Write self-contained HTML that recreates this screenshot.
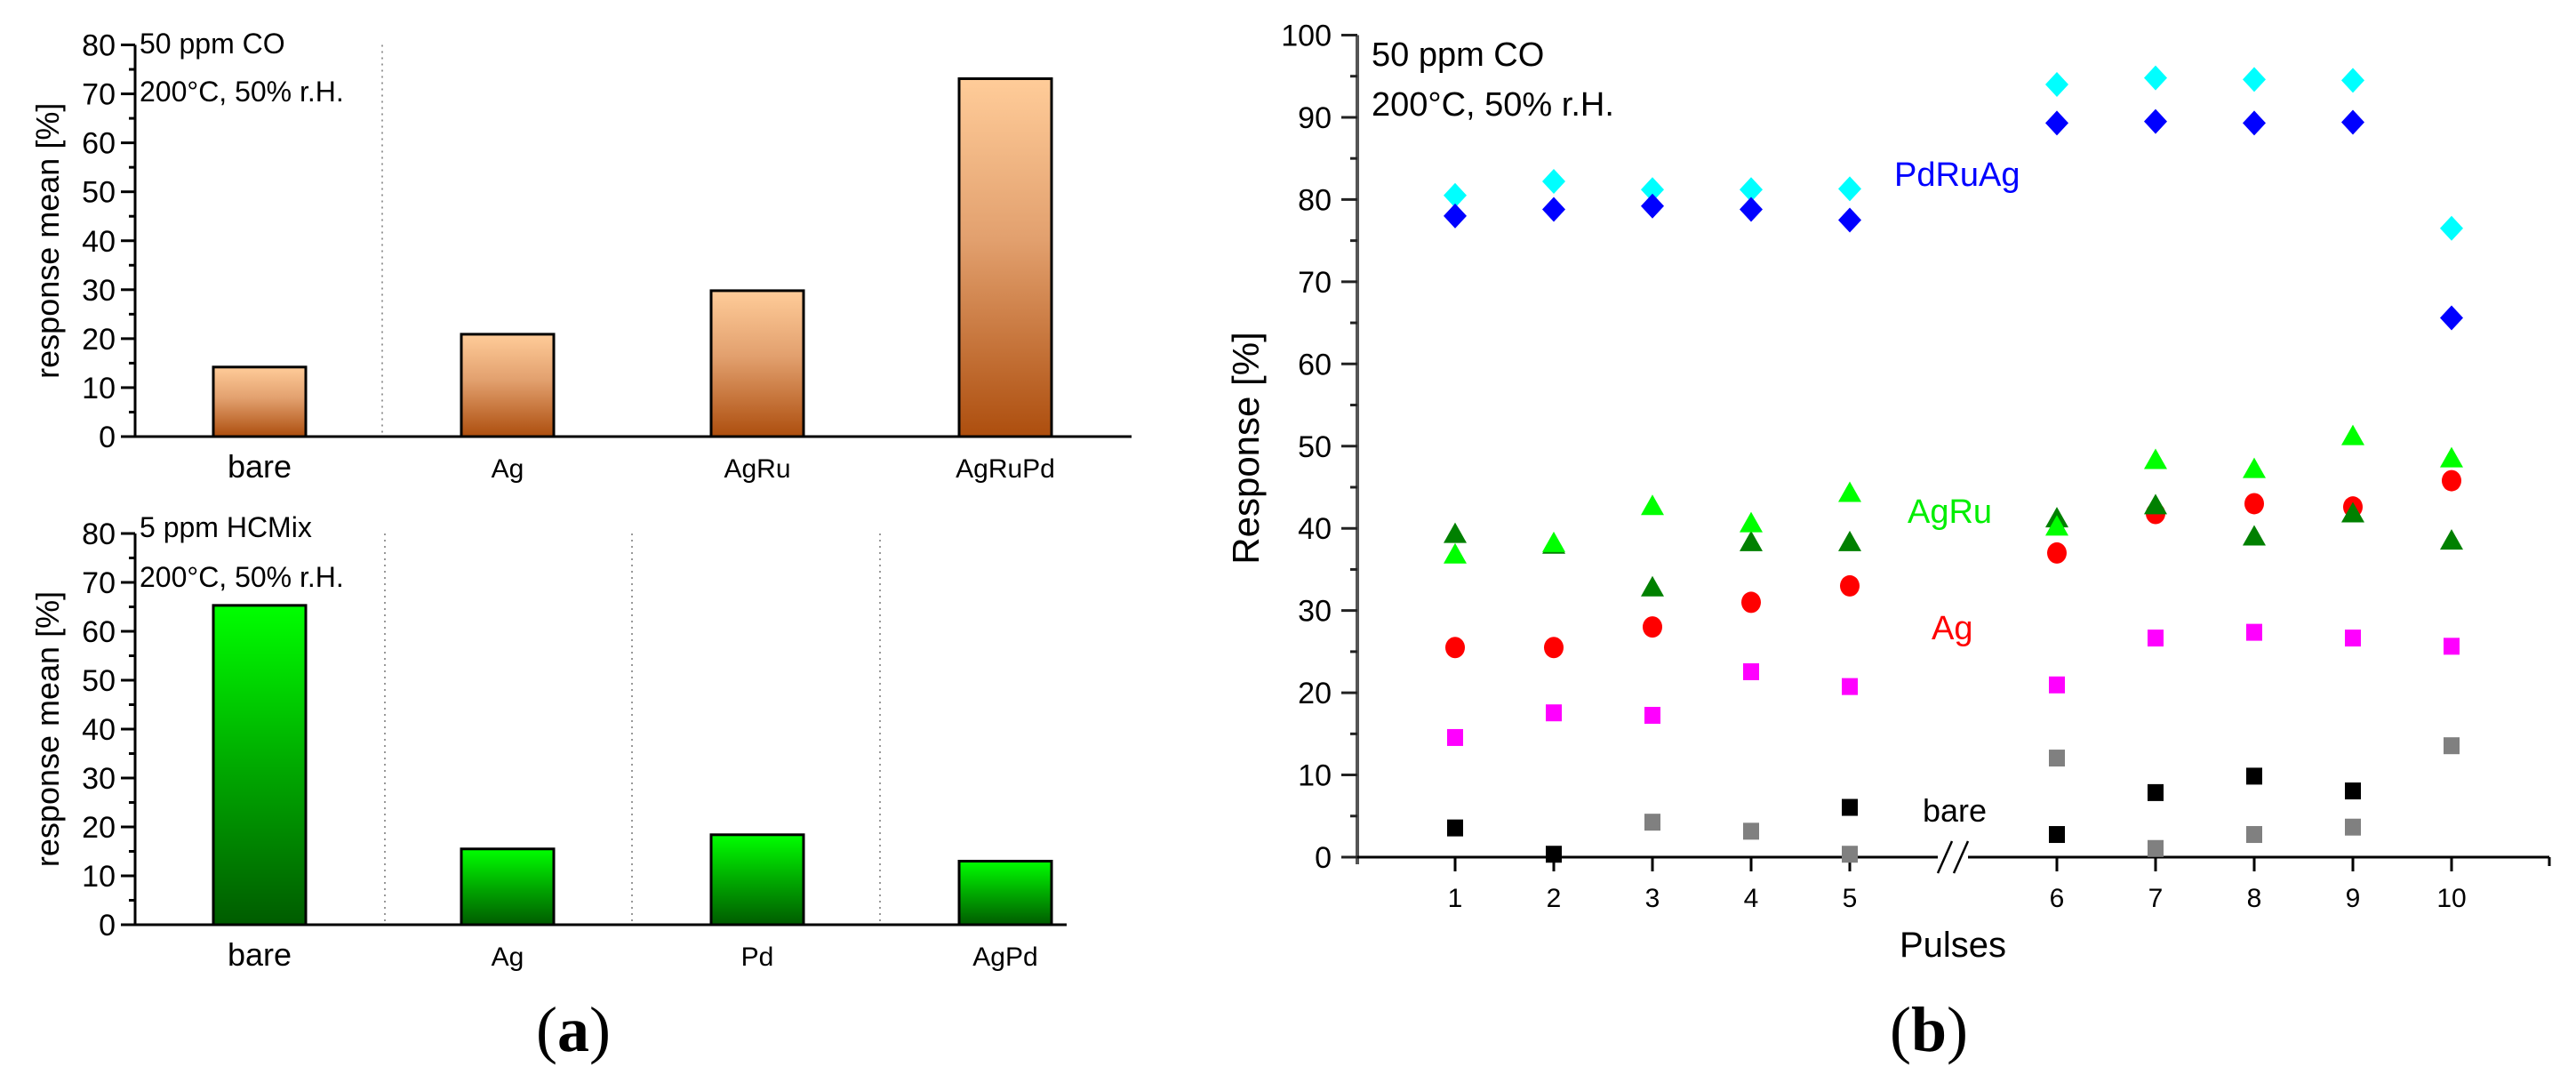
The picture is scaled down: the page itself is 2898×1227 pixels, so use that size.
<!DOCTYPE html>
<html><head><meta charset="utf-8"><style>
html,body{margin:0;padding:0;background:#fff;width:2898px;height:1227px;overflow:hidden}
svg{display:block;font-family:"Liberation Sans",sans-serif}
</style></head><body>
<svg id="fig" width="2898" height="1227" viewBox="0 0 2898 1227">
<defs>
<linearGradient id="gOr" x1="0" y1="0" x2="0" y2="1"><stop offset="0" stop-color="#ffcc99"/><stop offset="0.45" stop-color="#e2a06e"/><stop offset="1" stop-color="#ad4e0e"/></linearGradient>
<linearGradient id="gGr" x1="0" y1="0" x2="0" y2="1"><stop offset="0" stop-color="#00ff00"/><stop offset="0.5" stop-color="#00aa00"/><stop offset="1" stop-color="#005c00"/></linearGradient>
</defs>
<g id="topA"></g>
<g id="botA"></g>
<g id="chartB"></g>
<text x="645" y="1182" font-family="Liberation Serif,serif" font-size="72" text-anchor="middle">(<tspan font-weight="bold">a</tspan>)</text>
<text x="2170" y="1182" font-family="Liberation Serif,serif" font-size="72" text-anchor="middle">(<tspan font-weight="bold">b</tspan>)</text>
</svg>
<script>
const coCats=["bare","Ag","AgRu","AgRuPd"];
const coVals=[14.2,20.9,29.8,73.1];
const hcCats=["bare","Ag","Pd","AgPd"];
const hcVals=[65.3,15.5,18.4,13];
const barTicks=[0,10,20,30,40,50,60,70,80];
const pulses=[1,2,3,4,5,6,7,8,9,10];
const pdruagLight=[80.5,82.2,81.2,81.2,81.3,94,94.8,94.6,94.5,76.5];
const pdruagDark=[78,78.8,79.2,78.8,77.5,89.3,89.5,89.3,89.4,65.6];
const agruLight=[36.8,38.2,42.7,40.6,44.3,40.2,48.3,47.2,51.2,48.5];
const agruDark=[39.3,38,32.8,38.3,38.3,41.2,42.8,39,41.8,38.5];
const agVals=[25.5,25.5,28,31,33,37,41.8,43,42.6,45.8];
const magentaVals=[14.5,17.5,17.2,22.5,20.7,20.9,26.6,27.3,26.6,25.6];
const grayVals=[null,null,4.2,3.1,0.3,12,1,2.7,3.6,13.5];
const bareVals=[3.5,0.3,null,null,6,2.7,7.8,9.8,8,null];
const respTicks=[0,10,20,30,40,50,60,70,80,90,100];

const NS="http://www.w3.org/2000/svg";
function mk(parent,tag,attrs,txt){const e=document.createElementNS(NS,tag);for(const k in attrs)e.setAttribute(k,attrs[k]);if(txt!==undefined)e.textContent=txt;parent.appendChild(e);return e;}

function barChart(gid,cats,vals,y0,y80,grad,seps,l1,l2,l1y,l2y,xEnd){
  const g=document.getElementById(gid);
  const ax=152;
  const ys=v=>y0-(y0-y80)*v/80;
  const centers=[292,571,852,1131];
  seps.forEach(sx=>{const s=mk(g,'line',{x1:sx,y1:y80,x2:sx,y2:y0,stroke:'#999','stroke-width':2,'stroke-dasharray':'2,5'});
    
    });
  cats.forEach((c,i)=>{
    const r=mk(g,'rect',{x:centers[i]-52,y:ys(vals[i]),width:104,height:y0-ys(vals[i]),fill:grad,stroke:'#000','stroke-width':3});
    
    
    const t=mk(g,'text',{x:centers[i],y:y0+46,'font-size':c==="bare"?36:30,'text-anchor':'middle'},c);
    
    
  });
  mk(g,'line',{x1:ax,y1:y80,x2:ax,y2:y0,stroke:'#000','stroke-width':3});
  mk(g,'line',{x1:ax-16,y1:y0,x2:xEnd,y2:y0,stroke:'#000','stroke-width':3});
  barTicks.forEach(v=>{
    mk(g,'line',{x1:ax-16,y1:ys(v),x2:ax,y2:ys(v),stroke:'#000','stroke-width':3});
    if(v<80)mk(g,'line',{x1:ax-7,y1:ys(v+5),x2:ax,y2:ys(v+5),stroke:'#000','stroke-width':3});
    const t=mk(g,'text',{x:ax-22,y:ys(v)+12,'font-size':34,'text-anchor':'end'},v);
    
    
  });
  const yl=mk(g,'text',{x:0,y:0,'font-size':36,'text-anchor':'middle',transform:`translate(66,${(y0+y80)/2}) rotate(-90)`},'response mean [%]');
  
  
  const a=mk(g,'text',{x:157,y:l1y,'font-size':32},l1);
  
  
  const b=mk(g,'text',{x:157,y:l2y,'font-size':32},l2);
  
  
}
barChart('topA',coCats,coVals,491,50.5,'url(#gOr)',[430],'50 ppm CO','200°C, 50% r.H.',60,114,1273);
barChart('botA',hcCats,hcVals,1040,600,'url(#gGr)',[433,711,990],'5 ppm HCMix','200°C, 50% r.H.',604,660,1200);

(function(){
  const g=document.getElementById('chartB');
  const ax=1527,y0=964,y100=39.5;
  const ys=v=>y0-(y0-y100)*v/100;
  const pxPos=[1637,1748,1859,1970,2081,2314,2425,2536,2647,2758];
  const xs=p=>pxPos[p-1];
  mk(g,'line',{x1:ax,y1:y100,x2:ax,y2:y0+8,stroke:'#555','stroke-width':4});
  mk(g,'line',{x1:ax-18,y1:y0,x2:2868,y2:y0,stroke:'#000','stroke-width':3});
  mk(g,'line',{x1:2868,y1:y0,x2:2868,y2:y0+10,stroke:'#000','stroke-width':3});
  respTicks.forEach(v=>{
    mk(g,'line',{x1:ax-18,y1:ys(v),x2:ax,y2:ys(v),stroke:'#222','stroke-width':3});
    if(v<100)mk(g,'line',{x1:ax-8,y1:ys(v+5),x2:ax,y2:ys(v+5),stroke:'#222','stroke-width':3});
    const t=mk(g,'text',{x:1498,y:ys(v)+12,'font-size':34,'text-anchor':'end'},v);
    
    
  });
  pulses.forEach(p=>{
    mk(g,'line',{x1:xs(p),y1:y0,x2:xs(p),y2:y0+16,stroke:'#000','stroke-width':3});
    const t=mk(g,'text',{x:xs(p),y:y0+56,'font-size':30,'text-anchor':'middle'},p);
    
    
  });
  mk(g,'rect',{x:2180,y:y0-6,width:34,height:12,fill:'#fff'});
  mk(g,'line',{x1:2180,y1:y0+18,x2:2196,y2:y0-18,stroke:'#000','stroke-width':2.5});
  mk(g,'line',{x1:2198,y1:y0+18,x2:2214,y2:y0-18,stroke:'#000','stroke-width':2.5});
  const yl=mk(g,'text',{x:0,y:0,'font-size':42,'text-anchor':'middle',transform:'translate(1416,504) rotate(-90)'},'Response [%]');
  
  
  const xl=mk(g,'text',{x:2197,y:1076,'font-size':40,'text-anchor':'middle'},'Pulses');
  
  

  function series(vals,shape,color,name){
    vals.forEach((v,i)=>{
      if(v===null)return;
      const cx=xs(pulses[i]),cy=ys(v);let e;
      if(shape==='d')e=mk(g,'polygon',{points:`${cx},${cy-14} ${cx+13},${cy} ${cx},${cy+14} ${cx-13},${cy}`,fill:color});
      else if(shape==='t')e=mk(g,'polygon',{points:`${cx},${cy-13} ${cx+13},${cy+10} ${cx-13},${cy+10}`,fill:color});
      else if(shape==='c')e=mk(g,'ellipse',{cx:cx,cy:cy,rx:11,ry:12,fill:color});
      else e=mk(g,'rect',{x:cx-9,y:cy-10,width:18,height:19,fill:color});
      
      
    });
  }
  series(grayVals,'s','#808080','bare-gray');
  series(bareVals,'s','#000000','bare');
  series(magentaVals,'s','#ff00ff','magenta');
  series(agVals,'c','#ff0000','ag');
  series(agruDark,'t','#008000','agru-dark');
  series(agruLight,'t','#00ff00','agru-light');
  series(pdruagLight,'d','#00ffff','pdruag-light');
  series(pdruagDark,'d','#0000ff','pdruag-dark');

  const labels=[['50 ppm CO',1543,74,'#000',38,'condition-gas'],['200°C, 50% r.H.',1543,130,'#000',38,'condition-temp'],
    ['PdRuAg',2131,209,'#0000ff',38,'series-label-pdruag'],['AgRu',2146,588,'#00ee00',38,'series-label-agru'],
    ['Ag',2173,719,'#ff0000',38,'series-label-ag'],['bare',2163,924,'#000',36,'series-label-bare']];
  labels.forEach(l=>{
    const t=mk(g,'text',{x:l[1],y:l[2],fill:l[3],'font-size':l[4]},l[0]);
    
    
  });
})();
</script>
</body></html>
